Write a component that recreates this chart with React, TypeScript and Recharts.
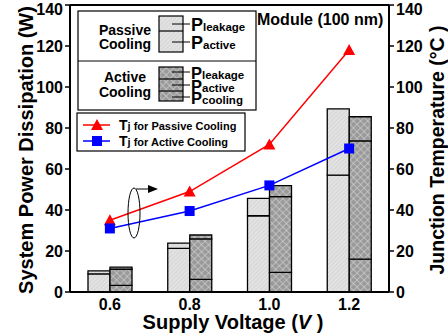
import { Bar, ComposedChart, Line, XAxis, YAxis } from "recharts"

// supply voltage categories
const voltages = ["0.6", "0.8", "1.0", "1.2"]

// power (W), passive cooling stack
const passiveActive = [8.8, 21.3, 37.2, 57]
const passiveLeakage = [1.5, 2.5, 8.5, 32.3]

// power (W), active cooling stack
const activeCooling = [3.2, 6.2, 9.6, 16]
const activeActive = [7.9, 19.7, 36.9, 57.7]
const activeLeakage = [1.0, 1.9, 5.4, 11.8]

// junction temperature (°C)
const tjPassive = [35, 49, 72, 118]
const tjActive = [31, 39.5, 52, 70]

const ticks = [0, 20, 40, 60, 80, 100, 120, 140]

const data = voltages.map((v, i) => ({
  v,
  pA: passiveActive[i],
  pL: passiveLeakage[i],
  aC: activeCooling[i],
  aA: activeActive[i],
  aL: activeLeakage[i],
  tP: tjPassive[i],
  tA: tjActive[i],
}))

const FONT = "Liberation Sans, Arial, sans-serif"
const tickStyle = { fontFamily: FONT, fontSize: 16, fontWeight: 700, fill: "#000" }

const Triangle = (props: any) => {
  const { cx, cy, index } = props
  return <polygon key={`tri-${index}`} points={`${cx},${cy - 6} ${cx - 6},${cy + 5} ${cx + 6},${cy + 5}`} fill="#ff0000" />
}

const Square = (props: any) => {
  const { cx, cy, index } = props
  return <rect key={`sq-${index}`} x={cx - 5} y={cy - 5} width={10} height={10} fill="#0000ff" />
}

const Patterns = () => (
  <defs>
    <pattern id="passivePat" width="3" height="3" patternUnits="userSpaceOnUse" patternTransform="rotate(45)">
      <rect width="3" height="3" fill="#dadada" />
      <line x1="0" y1="0" x2="0" y2="3" stroke="#f2f2f2" strokeWidth="1" />
    </pattern>
    <pattern id="activePat" width="5" height="5" patternUnits="userSpaceOnUse" patternTransform="rotate(45)">
      <rect width="5" height="5" fill="#9a9a9a" />
      <line x1="0" y1="0" x2="0" y2="5" stroke="#d4d4d4" strokeWidth="1.2" />
      <line x1="0" y1="0" x2="5" y2="0" stroke="#d4d4d4" strokeWidth="1.2" />
    </pattern>
  </defs>
)

const Sub = ({ x, y, main, sub, size = 18, subSize = 11.5 }: any) => (
  <text x={x} y={y} fontFamily={FONT} fontWeight={700} fill="#000">
    <tspan fontSize={size}>{main}</tspan>
    <tspan fontSize={subSize}>{sub}</tspan>
  </text>
)

const Overlay = () => (
  <svg width={448} height={335} style={{ position: "absolute", left: 0, top: 0, pointerEvents: "none" }}>
    <Patterns />
    {/* top frame */}
    <line x1={70} y1={5} x2={389} y2={5} stroke="#000" strokeWidth={2} />

    {/* bar legend */}
    <rect x={78} y={11} width={178} height={99} fill="#fff" stroke="#000" strokeWidth={1.2} />
    <line x1={78} y1={61} x2={256} y2={61} stroke="#000" strokeWidth={1} />
    <text x={125} y={35} textAnchor="middle" fontFamily={FONT} fontSize={14} fontWeight={700}>Passive</text>
    <text x={125} y={49} textAnchor="middle" fontFamily={FONT} fontSize={14} fontWeight={700}>Cooling</text>
    <text x={125} y={82} textAnchor="middle" fontFamily={FONT} fontSize={14} fontWeight={700}>Active</text>
    <text x={125} y={97} textAnchor="middle" fontFamily={FONT} fontSize={14} fontWeight={700}>Cooling</text>

    <rect x={159} y={16} width={24} height={36} fill="url(#passivePat)" stroke="#000" strokeWidth={1.2} />
    <line x1={159} y1={31} x2={183} y2={31} stroke="#000" strokeWidth={1.2} />
    <line x1={172} y1={24} x2={190} y2={24} stroke="#000" strokeWidth={1} />
    <line x1={172} y1={42} x2={190} y2={42} stroke="#000" strokeWidth={1} />
    <Sub x={191} y={31} main="P" sub="leakage" />
    <Sub x={191} y={49} main="P" sub="active" />

    <rect x={159} y={67} width={24} height={34} fill="url(#activePat)" stroke="#000" strokeWidth={1.2} />
    <line x1={159} y1={79} x2={183} y2={79} stroke="#000" strokeWidth={1.2} />
    <line x1={159} y1={91} x2={183} y2={91} stroke="#000" strokeWidth={1.2} />
    <line x1={172} y1={72} x2={190} y2={72} stroke="#000" strokeWidth={1} />
    <line x1={172} y1={85} x2={190} y2={85} stroke="#000" strokeWidth={1} />
    <line x1={172} y1={97} x2={190} y2={97} stroke="#000" strokeWidth={1} />
    <Sub x={191} y={79} main="P" sub="leakage" size={16.5} />
    <Sub x={191} y={91.5} main="P" sub="active" size={16.5} />
    <Sub x={191} y={104} main="P" sub="cooling" size={16.5} />

    {/* line legend */}
    <rect x={77} y={113} width={168} height={38} fill="#fff" stroke="#000" strokeWidth={1.2} />
    <line x1={83} y1={125} x2={110} y2={125} stroke="#ff0000" strokeWidth={1.5} />
    <polygon points="97,119 91,130 103,130" fill="#ff0000" />
    <line x1={83} y1={141} x2={110} y2={141} stroke="#0000ff" strokeWidth={1.5} />
    <rect x={92} y={136} width={10} height={10} fill="#0000ff" />
    <Sub x={119} y={130} main="T" sub="j for Passive Cooling" size={14} subSize={11} />
    <Sub x={119} y={146} main="T" sub="j for Active Cooling" size={14} subSize={11} />

    <text x={257} y={25} fontFamily={FONT} fontSize={16} fontWeight={700}>Module (100 nm)</text>

    {/* ellipse + arrow marking the temperature series */}
    <ellipse cx={134} cy={213} rx={6} ry={25} fill="none" stroke="#000" strokeWidth={1} />
    <line x1={136} y1={189} x2={150} y2={189} stroke="#000" strokeWidth={1} />
    <polygon points="148,185 158,189 148,193" fill="#000" />

    {/* axis titles */}
    <text transform="translate(26,150) rotate(-90)" textAnchor="middle" dominantBaseline="central"
      fontFamily={FONT} fontSize={20} fontWeight={700}>System Power Dissipation (W)</text>
    <text transform="translate(437,150) rotate(-90)" textAnchor="middle" dominantBaseline="central"
      fontFamily={FONT} fontSize={19.5} fontWeight={700}>Junction Temperature (°C )</text>
    <text x={233} y={329} textAnchor="middle" fontFamily={FONT} fontSize={20} fontWeight={700}>
      Supply Voltage (<tspan fontStyle="italic">V</tspan> )
    </text>
  </svg>
)

export default function App() {
  return (
    <div style={{ position: "absolute", left: 0, top: 0, width: 448, height: 335, background: "#fff" }}>
      <ComposedChart
        width={448}
        height={335}
        data={data}
        margin={{ top: 5, right: 8, bottom: 0, left: 8 }}
        barGap={0}
        barSize={22}
      >
        <Patterns />
        <XAxis
          dataKey="v"
          height={43}
          interval={0}
          tickLine={false}
          tickSize={6}
          tickMargin={1}
          axisLine={{ stroke: "#000", strokeWidth: 2 }}
          tick={tickStyle}
        />
        <YAxis
          yAxisId="left"
          width={62}
          domain={[0, 140]}
          ticks={ticks}
          tickSize={5}
          tickMargin={2}
          axisLine={{ stroke: "#000", strokeWidth: 2 }}
          tickLine={{ stroke: "#000", strokeWidth: 1.5 }}
          tick={tickStyle}
        />
        <YAxis
          yAxisId="right"
          orientation="right"
          width={51}
          domain={[0, 140]}
          ticks={ticks}
          tickSize={5}
          tickMargin={2}
          axisLine={{ stroke: "#000", strokeWidth: 2 }}
          tickLine={{ stroke: "#000", strokeWidth: 1.5 }}
          tick={tickStyle}
        />
        <Bar yAxisId="left" dataKey="pA" stackId="p" fill="url(#passivePat)" stroke="#000" strokeWidth={1.3} isAnimationActive={false} />
        <Bar yAxisId="left" dataKey="pL" stackId="p" fill="url(#passivePat)" stroke="#000" strokeWidth={1.3} isAnimationActive={false} />
        <Bar yAxisId="left" dataKey="aC" stackId="a" fill="url(#activePat)" stroke="#000" strokeWidth={1.3} isAnimationActive={false} />
        <Bar yAxisId="left" dataKey="aA" stackId="a" fill="url(#activePat)" stroke="#000" strokeWidth={1.3} isAnimationActive={false} />
        <Bar yAxisId="left" dataKey="aL" stackId="a" fill="url(#activePat)" stroke="#000" strokeWidth={1.3} isAnimationActive={false} />
        <Line yAxisId="right" dataKey="tP" type="linear" stroke="#ff0000" strokeWidth={1.5} dot={Triangle} isAnimationActive={false} />
        <Line yAxisId="right" dataKey="tA" type="linear" stroke="#0000ff" strokeWidth={1.5} dot={Square} isAnimationActive={false} />
      </ComposedChart>
      <Overlay />
    </div>
  )
}
